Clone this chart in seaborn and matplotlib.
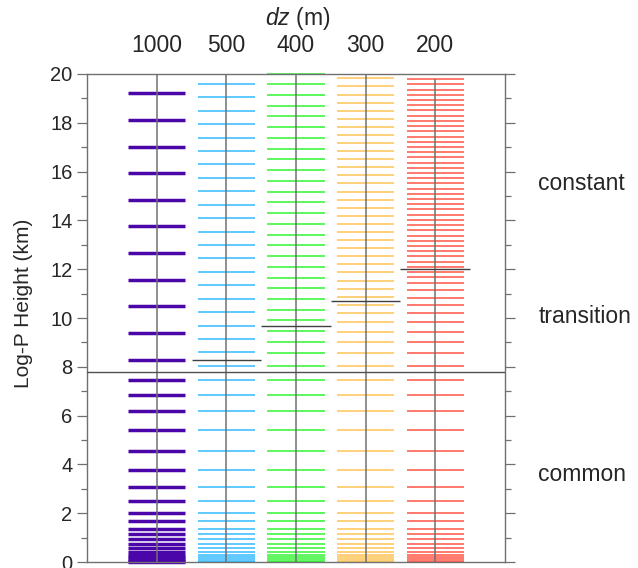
import matplotlib
matplotlib.use('Agg')
import matplotlib.pyplot as plt
import seaborn as sns

# column labels (dz in m) and their x positions
dz_labels = ['1000', '500', '400', '300', '200']
col_x = [1, 2, 3, 4, 5]

# levels shared by all columns (km)
common_km = [0.00, 0.05, 0.12, 0.20, 0.30, 0.42, 0.57, 0.74, 0.93, 1.13, 1.37,
             1.67, 2.02, 2.49, 3.07, 3.77, 4.56, 5.41, 6.19, 6.84, 7.47]

# levels above the common part, per column
upper_1000 = [8.29, 9.40, 10.49, 11.57, 12.66, 13.76, 14.84, 15.93, 17.01, 18.10, 19.21]
upper_500 = [8.05, 8.59, 9.14, 9.68, 10.23, 10.79, 11.34, 11.90, 12.45, 12.99, 13.54,
             14.10, 14.64, 15.19, 15.75, 16.30, 16.84, 17.39, 17.95, 18.50, 19.04, 19.59]
upper_400 = [8.05, 8.55, 9.02, 9.47, 9.90, 10.34, 10.78, 11.22, 11.65, 12.10, 12.54,
             12.98, 13.42, 13.85, 14.29, 14.74, 15.18, 15.61, 16.07, 16.50, 16.94,
             17.38, 17.81, 18.27, 18.70, 19.14, 19.59, 20.00]
upper_300 = [8.03, 8.55, 9.00, 9.43, 9.82, 10.19, 10.55, 10.87, 11.20, 11.53, 11.87,
             12.20, 12.53, 12.86, 13.18, 13.52, 13.85, 14.18, 14.52, 14.85, 15.18,
             15.52, 15.85, 16.17, 16.50, 16.84, 17.17, 17.50, 17.84, 18.17, 18.50,
             18.83, 19.15, 19.49, 19.82]
upper_200 = [8.03, 8.55, 9.00, 9.44, 9.83, 10.19, 10.54, 10.83, 11.15, 11.42, 11.66,
             11.89, 12.09, 12.31, 12.53, 12.73, 12.95, 13.17, 13.37, 13.59, 13.81,
             14.02, 14.23, 14.45, 14.66, 14.88, 15.08, 15.30, 15.52, 15.72, 15.94,
             16.16, 16.37, 16.58, 16.79, 17.01, 17.23, 17.43, 17.65, 17.87, 18.07,
             18.29, 18.51, 18.72, 18.93, 19.14, 19.36, 19.58, 19.80]
upper_levels = [upper_1000, upper_500, upper_400, upper_300, upper_200]

# top of the transition zone for columns 500..200, top of common zone
transition_top = [8.29, 9.69, 10.70, 11.99]
common_top = 7.8

zone_names = ['constant', 'transition', 'common']
zone_y = [15.5, 10.05, 3.6]

colors = ['#4A06A8', '#33BBFF', '#33F533', '#FFC455', '#FF5544']
widths = [2.5, 1.1, 1.1, 1.1, 1.1]

sns.set_style('ticks')
plt.rcParams['font.family'] = ['Liberation Sans', 'DejaVu Sans']
plt.rcParams['mathtext.fontset'] = 'custom'
plt.rcParams['mathtext.it'] = 'Liberation Sans:italic'
plt.rcParams['mathtext.rm'] = 'Liberation Sans'

fig = plt.figure(figsize=(6.38, 5.68), dpi=100)
ax = fig.add_axes([87 / 638, 6 / 568, 418 / 638, 488 / 568])

# column centre lines
for i, x in enumerate(col_x):
    top = 19.8 if dz_labels[i] == '200' else 20
    ax.vlines(x, 0, top, color='#707070', lw=1.1, zorder=3)

for i, x in enumerate(col_x):
    levels = common_km + upper_levels[i]
    ax.hlines(levels, x - 0.41, x + 0.41, color=colors[i], lw=widths[i],
              zorder=2, clip_on=False)

ax.axhline(common_top, color='#505050', lw=1.0, zorder=4)
for x, h in zip(col_x[1:], transition_top):
    ax.hlines(h, x - 0.5, x + 0.5, color='#404040', lw=1.0, zorder=4)

for name, y in zip(zone_names, zone_y):
    ax.text(6.48, y, name, fontsize=16.5, va='center', ha='left')

ax.set_xlim(0, 6)
ax.set_ylim(0, 20)
ax.set_xticks(col_x)
ax.set_xticklabels(dz_labels)
ax.xaxis.tick_top()
ax.tick_params(axis='x', length=0, pad=12, labelsize=16.5)
fig.text(298 / 638, 1 - 19 / 568, r'$dz$ (m)', fontsize=16.5,
         ha='center', va='center')

ax.set_yticks(range(0, 21, 2))
ax.set_yticks(range(1, 20, 2), minor=True)
ax.tick_params(axis='y', which='both', direction='out', right=True,
               labelsize=14.5, color='#707070')
ax.tick_params(axis='y', which='major', length=7.5, width=0.9, pad=3)
ax.tick_params(axis='y', which='minor', length=4, width=0.9)
ax.set_ylabel('Log-P Height (km)', fontsize=15)
ax.yaxis.set_label_coords(-0.128, 0.53)

for s in ax.spines.values():
    s.set_color('#707070')
    s.set_linewidth(1.0)

fig.savefig('out.png', dpi=100)
